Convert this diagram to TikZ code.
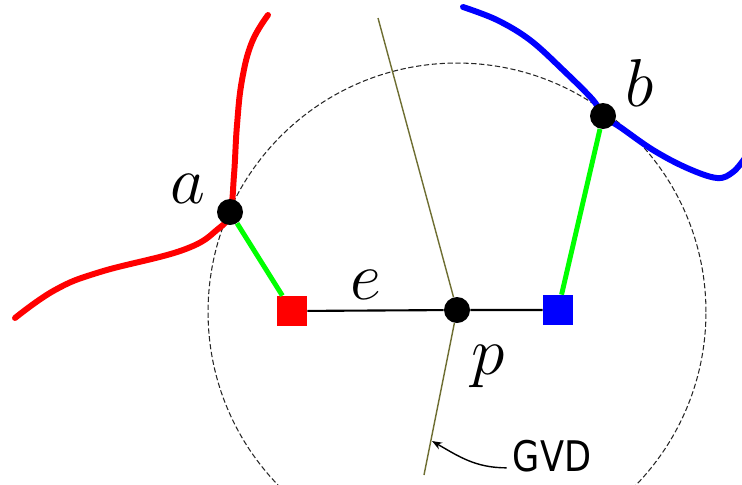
\documentclass[tikz,border=0pt]{standalone}
\usepackage{fontspec}
\newfontfamily\gvdfont{DejaVu Sans}
\usetikzlibrary{arrows.meta}
\definecolor{gvdline}{RGB}{110,110,50}

\begin{document}
\begin{tikzpicture}[x=0.02cm, y=-0.02cm,
  site/.style={circle, fill=black, inner sep=0pt, minimum size=0.52cm},
  foot/.style={rectangle, inner sep=0pt, minimum size=0.6cm},
  lbl/.style={font=\Huge, scale=1.55, inner sep=0pt},
  obst/.style={line width=3.4pt, line cap=round},
  link/.style={green, line width=2.8pt},
  arr/.style={-{Stealth[length=2mm, width=1.5mm]}, line width=0.8pt}
]
  \useasboundingbox (0,0) rectangle (742,484);
  \clip (0,0) rectangle (742,484);
  \draw[dash pattern=on 3pt off 1.5pt, line width=0.6pt, black!85] (457,312) circle [radius=4.98cm];
  \draw[obst, red] plot[smooth, tension=0.7] coordinates {(268,15) (252,42) (242,80) (237,125) (234,175) (230,212) (218,229) (183,250) (100,272) (55,290) (15,318)};
  \draw[obst, blue] plot[smooth, tension=0.6] coordinates {(463,7) (497,20) (530,40) (563,70) (593,100) (603,116) (620,127) (653,150) (687,168) (717,178) (733,172) (745,158)};
  \coordinate (gtop) at (378,18);
  \coordinate (gbot) at (424,475);
  \coordinate (gvdpt) at (432,441);
  \node[site] (a) at (230,212) {};
  \node[site] (b) at (603,116) {};
  \node[site] (p) at (457,310) {};
  \node[foot, fill=red] (fa) at (292,311) {};
  \node[foot, fill=blue] (fb) at (558,310) {};
  \draw[gvdline, line width=0.8pt] (gtop) -- (p) -- (gbot);
  \draw[line width=1.2pt] (fa) -- (p) -- (fb);
  \draw[link] (a) -- (fa);
  \draw[link] (b) -- (fb);
  \node[lbl] (la) at (188,189) {$a$};
  \node[lbl] (lb) at (640,83) {$b$};
  \node[lbl] (le) at (366,285) {$e$};
  \node[lbl] (lp) at (488,366) {$p$};
  \node[font=\gvdfont\fontsize{20}{20}\selectfont, yscale=1.2] (gvd) at (552,456) {GVD};
  \draw[arr] ([yshift=2pt]gvd.base west) to[out=180, in=-30] (gvdpt);
\end{tikzpicture}
\end{document}
